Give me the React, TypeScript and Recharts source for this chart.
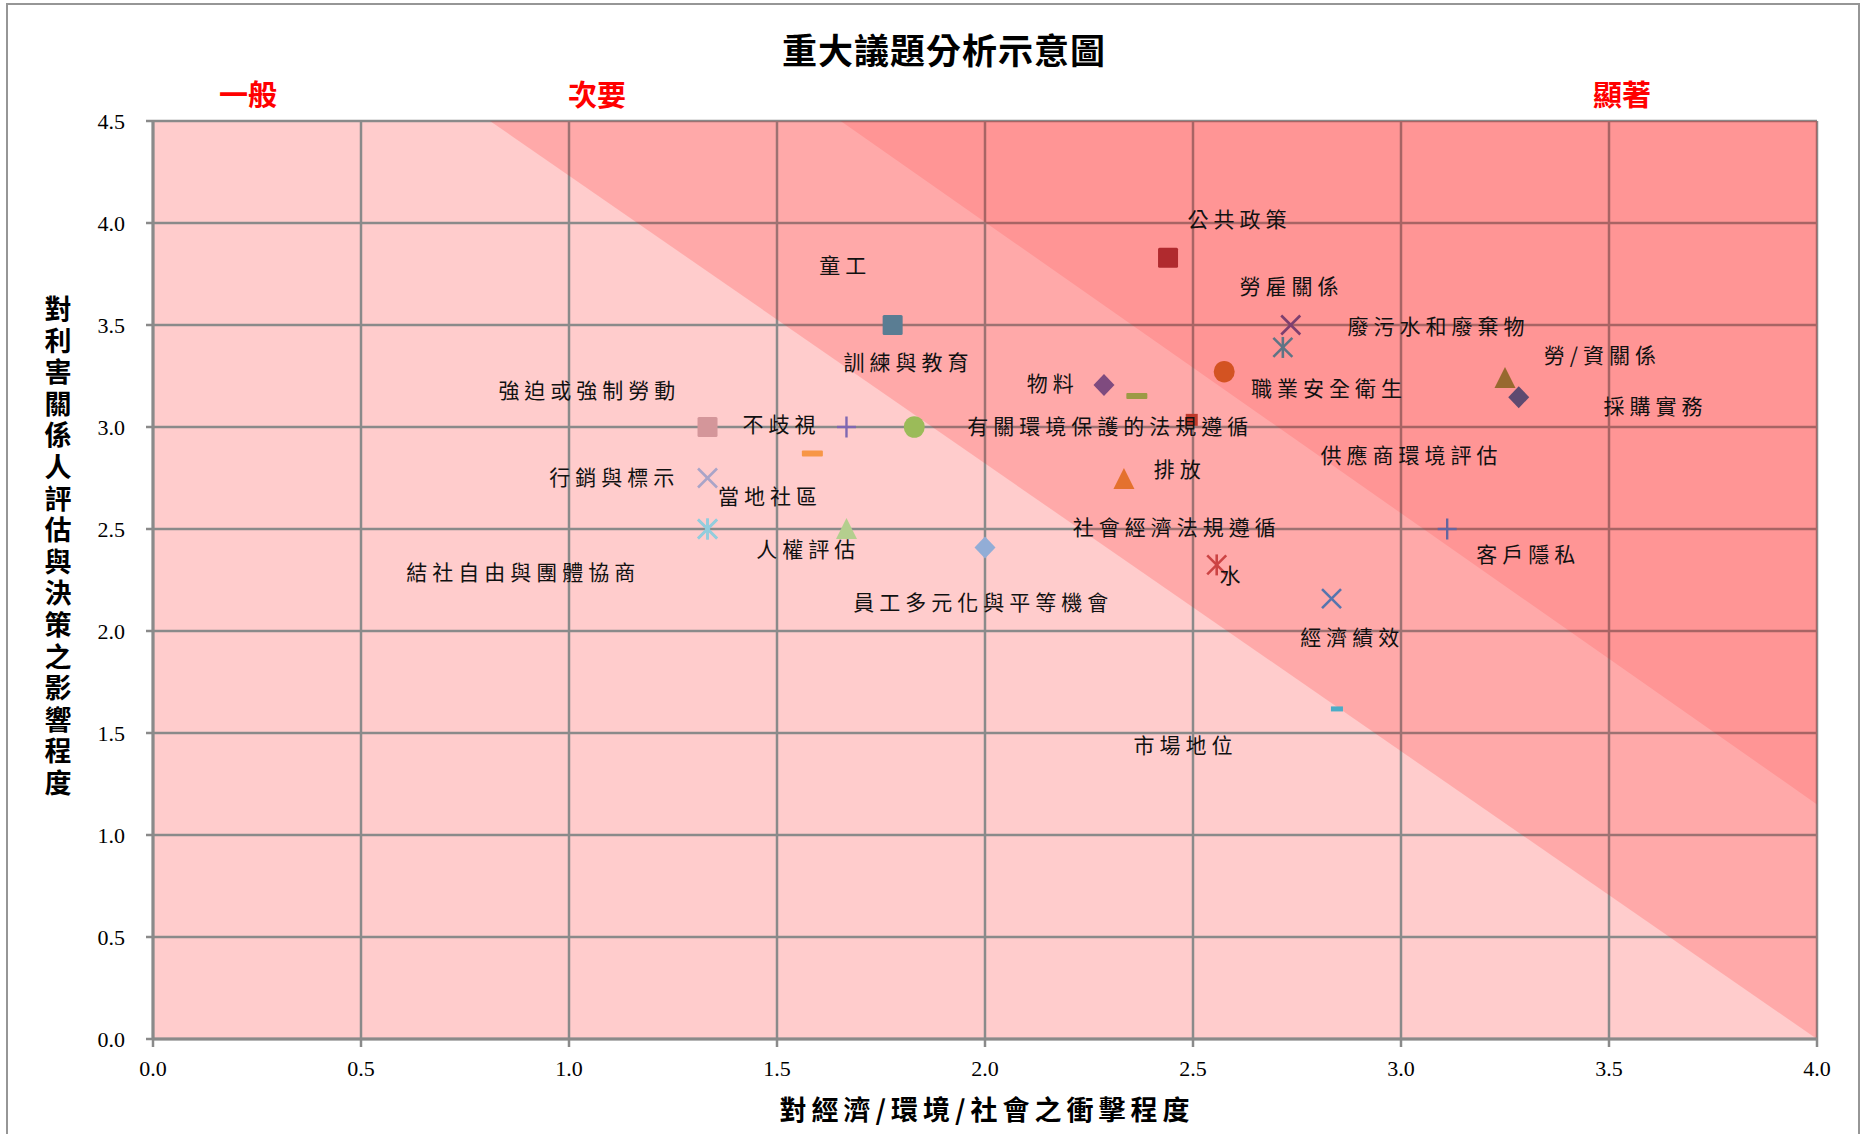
import React from 'react';
import { ComposedChart, Area, Scatter, XAxis, YAxis, CartesianGrid } from 'recharts';

// ---------- data ----------
const issueNames = [
  '公共政策', '童工', '勞雇關係', '廢污水和廢棄物', '勞/資關係', '訓練與教育',
  '物料', '職業安全衛生', '採購實務', '強迫或強制勞動', '不歧視', '有關環境保護的法規遵循',
  '供應商環境評估', '排放', '行銷與標示', '當地社區', '社會經濟法規遵循', '人權評估',
  '客戶隱私', '結社自由與團體協商', '水', '員工多元化與平等機會', '經濟績效', '市場地位',
];
// 對經濟/環境/社會之衝擊程度
const impactValues = [
  2.44, 1.585, 2.735, 2.716, 3.25, 1.778,
  2.286, 2.575, 3.283, 1.333, 1.667, 1.83,
  2.497, 2.334, 1.333, 1.333, 2.365, 1.667,
  3.111, 1.333, 2.557, 2.0, 2.833, 2.846,
];
// 對利害關係人評估與決策之影響程度
const influenceValues = [
  3.83, 2.87, 3.5, 3.39, 3.24, 3.5,
  3.206, 3.271, 3.146, 3.0, 3.0, 3.0,
  3.035, 2.745, 2.75, 2.5, 3.152, 2.5,
  2.5, 2.5, 2.324, 2.409, 2.159, 1.618,
];
// label anchors (data units)
const labelX = [
  2.612, 1.664, 2.737, 3.09, 3.484, 1.816,
  2.163, 2.827, 3.612, 1.049, 1.511, 2.301,
  3.025, 2.468, 1.109, 1.483, 2.461, 1.575,
  3.306, 0.89, 2.595, 1.996, 2.883, 2.482,
];
const labelY = [
  4.006, 3.782, 3.678, 3.485, 3.342, 3.306,
  3.204, 3.179, 3.091, 3.167, 3.004, 2.993,
  2.849, 2.784, 2.743, 2.65, 2.498, 2.392,
  2.363, 2.275, 2.262, 2.128, 1.96, 1.427,
];
const xTicks = [0, 0.5, 1, 1.5, 2, 2.5, 3, 3.5, 4];
const yTicks = [0, 0.5, 1, 1.5, 2, 2.5, 3, 3.5, 4, 4.5];
// zone boundaries: [low, high]
const zoneMinor = [
  { x: 0.81, band: [4.5, 4.5] },
  { x: 4.0, band: [0, 4.5] },
];
const zoneMajor = [
  { x: 1.653, band: [4.5, 4.5] },
  { x: 4.0, band: [1.15, 4.5] },
];
const zoneTitles = ['一般', '次要', '顯著'];

// ---------- styles ----------
const markerShapes = [
  'square', 'dash', 'x', 'star', 'triangle', 'square',
  'diamond', 'circle', 'diamond', 'square', 'plus', 'circle',
  'smallSquare', 'triangle', 'x', 'star', 'dash', 'triangle',
  'plus', 'star', 'star', 'diamond', 'x', 'smallDash',
];
const markerColors = [
  '#B02A2E', '#F79646', '#7D3F6F', '#5E7485', '#98692F', '#5A7D93',
  '#7F4B7F', '#D35322', '#5E4A70', '#D4969A', '#7F68B2', '#9BBB59',
  '#C0392B', '#E4712E', '#A9A4C8', '#93CDDD', '#9C9A45', '#B4CE8E',
  '#65659F', '#93CDDD', '#CC4444', '#92ADD6', '#5575AE', '#4BACC6',
];

const points = issueNames.map((name, i) => ({ name, x: impactValues[i], y: influenceValues[i] }));
const labelPoints = issueNames.map((name, i) => ({ name, x: labelX[i], y: labelY[i] }));

const CJK = '"Noto Sans CJK TC", "Noto Sans CJK SC", sans-serif';
const GRID = '#8a8a8a';

function Marker(props: any) {
  const { cx, cy, payload } = props;
  if (cx == null || cy == null) return null;
  const i = issueNames.indexOf(payload.name);
  const shape = markerShapes[i];
  const c = markerColors[i];
  const h = 9.5;
  switch (shape) {
    case 'square':
      return <rect x={cx - 10} y={cy - 10} width={20} height={20} rx={1.5} fill={c} />;
    case 'smallSquare':
      return <rect x={cx - 6} y={cy - 6} width={12} height={12} fill={c} />;
    case 'circle':
      return <ellipse cx={cx} cy={cy} rx={10.5} ry={10.8} fill={c} />;
    case 'diamond':
      return <polygon points={`${cx},${cy - 11} ${cx + 10.5},${cy} ${cx},${cy + 11} ${cx - 10.5},${cy}`} fill={c} />;
    case 'triangle':
      return <polygon points={`${cx},${cy - 11} ${cx + 10.5},${cy + 10} ${cx - 10.5},${cy + 10}`} fill={c} />;
    case 'dash':
      return <rect x={cx - 10.5} y={cy - 3} width={21} height={6} rx={1} fill={c} />;
    case 'smallDash':
      return <rect x={cx - 6} y={cy - 2.5} width={12} height={5} fill={c} />;
    case 'x':
      return (
        <g stroke={c} strokeWidth={2.6}>
          <line x1={cx - h} y1={cy - h} x2={cx + h} y2={cy + h} />
          <line x1={cx - h} y1={cy + h} x2={cx + h} y2={cy - h} />
        </g>
      );
    case 'star':
      return (
        <g stroke={c} strokeWidth={2.6}>
          <line x1={cx - h} y1={cy - h} x2={cx + h} y2={cy + h} />
          <line x1={cx - h} y1={cy + h} x2={cx + h} y2={cy - h} />
          <line x1={cx} y1={cy - h - 1} x2={cx} y2={cy + h + 1} />
        </g>
      );
    case 'plus':
      return (
        <g stroke={c} strokeWidth={2.4}>
          <line x1={cx - h} y1={cy} x2={cx + h} y2={cy} />
          <line x1={cx} y1={cy - h - 1} x2={cx} y2={cy + h + 1} />
        </g>
      );
    default:
      return null;
  }
}

function LabelText(props: any) {
  const { cx, cy, payload } = props;
  if (cx == null || cy == null) return null;
  return (
    <text
      x={cx}
      y={cy}
      dy={-3.5}
      textAnchor="middle"
      dominantBaseline="central"
      fill="#111"
      style={{ fontFamily: CJK, fontSize: 21, letterSpacing: 5 }}
    >
      {payload.name}
    </text>
  );
}

const fmt = (v: number) => v.toFixed(1);

export default function App() {
  return (
    <div style={{ position: 'absolute', left: 0, top: 0, width: 1863, height: 1134, overflow: 'hidden', background: '#fff' }}>
      <div style={{ position: 'absolute', left: 6, top: 3, width: 1850, height: 1200, border: '2px solid #969696' }} />
      <div style={{ position: 'absolute', left: 0, top: 0 }}>
        <ComposedChart width={1863} height={1134} margin={{ top: 121, right: 46, bottom: 35, left: 73 }}>
          <CartesianGrid stroke={GRID} strokeWidth={2.5} fill="#FFCCCC" fillOpacity={1} />
          <XAxis
            type="number"
            dataKey="x"
            domain={[0, 4]}
            ticks={xTicks}
            tickFormatter={fmt}
            height={60}
            tickSize={8}
            tickMargin={13}
            axisLine={{ stroke: GRID, strokeWidth: 3 }}
            tickLine={{ stroke: GRID, strokeWidth: 2.5 }}
            tick={{ fill: '#000', fontSize: 22, fontFamily: '"Liberation Serif", serif' }}
            allowDataOverflow
          />
          <YAxis
            type="number"
            dataKey="y"
            domain={[0, 4.5]}
            ticks={yTicks}
            tickFormatter={fmt}
            width={80}
            tickSize={7}
            tickMargin={21}
            axisLine={{ stroke: GRID, strokeWidth: 3 }}
            tickLine={{ stroke: GRID, strokeWidth: 2.5 }}
            tick={{ fill: '#000', fontSize: 22, fontFamily: '"Liberation Serif", serif' }}
            allowDataOverflow
          />
          <Area
            data={zoneMinor}
            dataKey="band"
            type="linear"
            stroke="none"
            fill="#FF0000"
            fillOpacity={0.167}
            dot={false}
            activeDot={false}
            isAnimationActive={false}
          />
          <Area
            data={zoneMajor}
            dataKey="band"
            type="linear"
            stroke="none"
            fill="#FF0000"
            fillOpacity={0.118}
            dot={false}
            activeDot={false}
            isAnimationActive={false}
          />
          <Scatter data={points} dataKey="y" shape={<Marker />} isAnimationActive={false} />
          <Scatter data={labelPoints} dataKey="y" shape={<LabelText />} isAnimationActive={false} />
        </ComposedChart>
      </div>
      <div
        style={{
          position: 'absolute', left: 944, top: 48, transform: 'translate(-50%, -50%)',
          fontFamily: CJK, fontWeight: 700, fontSize: 35, whiteSpace: 'nowrap', color: '#000', letterSpacing: 1,
        }}
      >
        重大議題分析示意圖
      </div>
      {zoneTitles.map((t, i) => (
        <div
          key={t}
          style={{
            position: 'absolute', left: [248, 597, 1622][i], top: 93, transform: 'translate(-50%, -50%)',
            fontFamily: CJK, fontWeight: 700, fontSize: 29, color: '#FF0000', whiteSpace: 'nowrap',
          }}
        >
          {t}
        </div>
      ))}
      <div
        style={{
          position: 'absolute', left: 987, top: 1108, transform: 'translate(-50%, -50%)',
          fontFamily: CJK, fontWeight: 700, fontSize: 27, letterSpacing: 5, whiteSpace: 'nowrap', color: '#000',
        }}
      >
        對經濟/環境/社會之衝擊程度
      </div>
      <div
        style={{
          position: 'absolute', left: 58, top: 548, transform: 'translate(-50%, -50%)',
          fontFamily: CJK, fontWeight: 700, fontSize: 27, letterSpacing: 4.6,
          writingMode: 'vertical-rl', textOrientation: 'upright', whiteSpace: 'nowrap', color: '#000',
        }}
      >
        對利害關係人評估與決策之影響程度
      </div>
    </div>
  );
}
